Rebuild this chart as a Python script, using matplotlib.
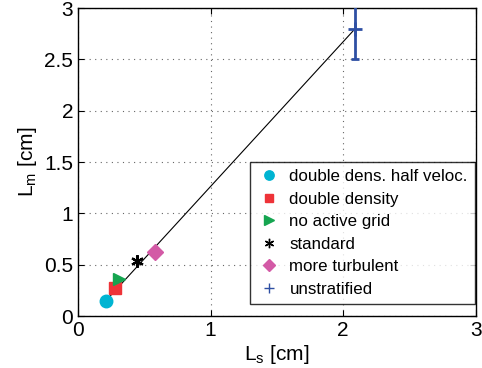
import matplotlib.pyplot as plt

labels = ['double dens. half veloc.', 'double density', 'no active grid',
          'standard', 'more turbulent', 'unstratified']
ls_vals = [0.207, 0.277, 0.31, 0.447, 0.577, 2.087]
lm_vals = [0.146, 0.276, 0.357, 0.54, 0.62, 2.795]
lm_err = [0.0, 0.0, 0.0, 0.05, 0.0, 0.29]

colors = ['#00b4d2', '#ee3338', '#15a550', '#000000', '#d35aa6', '#2e4fa3']
markers = ['o', 's', '>', (6, 2, 0), 'D', '+']
sizes = [9, 8, 9, 9, 8, 10]

plt.rcParams['font.family'] = ['Liberation Sans', 'DejaVu Sans']

fig = plt.figure(figsize=(4.82, 3.68), dpi=100)
ax = fig.add_axes([0.162, 0.141, 0.825, 0.837])

# fit line through the circle and the unstratified point
ax.plot([ls_vals[0], ls_vals[-1]], [lm_vals[0], lm_vals[-1]], color='black', lw=0.8, zorder=2)

for x, y, e, c, m, s, lab in zip(ls_vals, lm_vals, lm_err, colors, markers, sizes, labels):
    if e > 0:
        big = e > 0.1
        ax.errorbar([x], [y], yerr=[e], fmt='none', ecolor=c, elinewidth=2 if big else 1.5,
                    capsize=3 if big else 0, capthick=2, zorder=3)
    ax.plot([x], [y], linestyle='none', marker=m, color=c, markersize=s,
            markeredgewidth=2 if m in ('+',) else (1.6 if m == (6, 2, 0) else 1),
            label=lab, zorder=4)

ax.set_xlim(0, 3)
ax.set_ylim(0, 3)
ax.set_xticks([0, 1, 2, 3])
ax.set_yticks([0, 0.5, 1, 1.5, 2, 2.5, 3])
ax.set_yticklabels(['0', '0.5', '1', '1.5', '2', '2.5', '3'])
ax.tick_params(direction='in', labelsize=15, length=4, top=True, right=True)
ax.grid(True, linestyle=(0, (1, 4)), color='#666666', lw=0.8)
for sp in ax.spines.values():
    sp.set_linewidth(1.0)

ax.set_xlabel('L$_\\mathregular{s}$ [cm]', fontsize=15, labelpad=2)
ax.set_ylabel('L$_\\mathregular{m}$ [cm]', fontsize=15, labelpad=4)

leg = ax.legend(loc='lower right', bbox_to_anchor=(0.997, 0.04), fontsize=12.2,
                frameon=True, fancybox=False, edgecolor='black', borderaxespad=0,
                handletextpad=0.5, handlelength=1.4, labelspacing=0.45,
                markerscale=0.75, borderpad=0.4)
leg.get_frame().set_linewidth(1.0)
for h in leg.legend_handles:
    if h.get_marker() == '+':
        h.set_markeredgewidth(1)
    elif h.get_marker() == (6, 2, 0):
        h.set_markeredgewidth(1)

fig.savefig('out.png', dpi=100)
